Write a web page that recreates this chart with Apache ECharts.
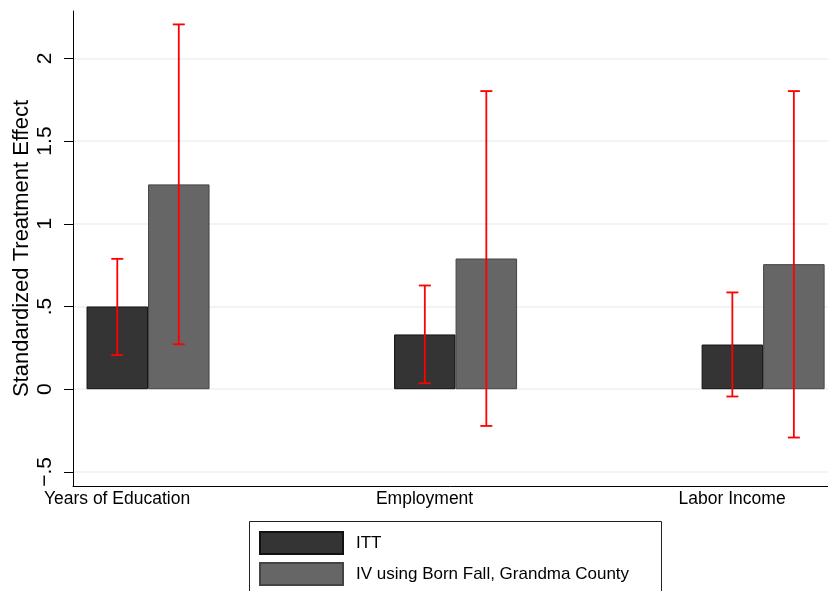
<!DOCTYPE html>
<html>
<head>
<meta charset="utf-8">
<script src="https://cdn.jsdelivr.net/npm/echarts@6/dist/echarts.min.js"></script>
<style>
  html, body { margin: 0; padding: 0; background: #fff; }
  #chart { width: 828px; height: 591px; }
</style>
</head>
<body>
<div id="chart"></div>
<script>
// Outcome categories, placed at positions 1, 2, 3 on the x axis
const categories = ['Years of Education', 'Employment', 'Labor Income'];
const positions = [1, 2, 3];

// Intent-to-treat estimates with 95% confidence bounds
const ittValues = [0.500, 0.331, 0.270];
const ittLow    = [0.206, 0.036, -0.044];
const ittHigh   = [0.788, 0.627, 0.585];

// IV estimates with 95% confidence bounds
const ivValues = [1.238, 0.790, 0.756];
const ivLow    = [0.272, -0.222, -0.292];
const ivHigh   = [2.205, 1.802, 1.802];

// Y axis ticks and their labels
const yTicks = [-0.5, 0, 0.5, 1, 1.5, 2];
const yTickLabels = ['\u2212.5', '0', '.5', '1', '1.5', '2'];

const seriesNames = ['ITT', 'IV using Born Fall, Grandma County'];
const FONT = '"Liberation Sans", Arial, Helvetica, sans-serif';

// Each bar takes 20% of the unit spacing between outcomes; error bars sit on bar centres
const BAR_SHARE = 0.2;

function errorBarRenderer(offset) {
  return function (params, api) {
    const x = api.value(0) + offset;
    const lo = api.coord([x, api.value(1)]);
    const hi = api.coord([x, api.value(2)]);
    const cap = 6;
    const style = { stroke: '#ff0000', lineWidth: 1.8 };
    return {
      type: 'group',
      children: [
        { type: 'line', shape: { x1: lo[0], y1: lo[1], x2: hi[0], y2: hi[1] }, style },
        { type: 'line', shape: { x1: hi[0] - cap, y1: hi[1], x2: hi[0] + cap, y2: hi[1] }, style },
        { type: 'line', shape: { x1: lo[0] - cap, y1: lo[1], x2: lo[0] + cap, y2: lo[1] }, style }
      ]
    };
  };
}

function legendFor(name, top) {
  return {
    data: [name],
    orient: 'vertical',
    left: 254,
    top: top,
    padding: 5,
    itemWidth: 83,
    itemHeight: 22,
    icon: 'rect',
    selectedMode: false,
    textStyle: { fontFamily: FONT, fontSize: 17, color: '#000', padding: [0, 0, 0, 8] }
  };
}

const chart = echarts.init(document.getElementById('chart'), null, { renderer: 'canvas' });

chart.setOption({
  backgroundColor: '#ffffff',
  animation: false,
  textStyle: { fontFamily: FONT },
  grid: { left: 73, right: 0, top: 11, bottom: 105, outerBoundsMode: 'none', containLabel: false },
  xAxis: {
    type: 'value',
    min: 0.756,
    max: 3.211,
    axisLine: { show: true, onZero: false, lineStyle: { color: '#000', width: 1 } },
    axisTick: { show: false },
    splitLine: { show: false },
    axisLabel: {
      customValues: positions,
      formatter: v => categories[Math.round(v) - 1],
      fontFamily: FONT,
      fontSize: 17.5,
      color: '#000',
      margin: 4,
      padding: [0, 62, 0, 0]
    }
  },
  yAxis: {
    type: 'value',
    min: -0.585,
    max: 2.286,
    name: 'Standardized Treatment Effect',
    nameLocation: 'middle',
    nameGap: 40,
    nameMoveOverlap: false,
    nameTextStyle: { fontFamily: FONT, fontSize: 22, color: '#000' },
    axisLine: { show: true, onZero: false, lineStyle: { color: '#000', width: 1 } },
    axisTick: { show: true, customValues: yTicks, length: 9, lineStyle: { color: '#000', width: 1 } },
    axisLabel: {
      customValues: yTicks,
      formatter: v => yTickLabels[yTicks.indexOf(v)],
      rotate: 90,
      fontFamily: FONT,
      fontSize: 21,
      color: '#000',
      margin: 17
    },
    splitLine: { show: true, lineStyle: { color: '#eaf1f4', width: 1.5 } }
  },
  legend: [legendFor(seriesNames[0], 526), legendFor(seriesNames[1], 557)],
  graphic: [{
    type: 'rect',
    shape: { x: 249.5, y: 521.5, width: 412, height: 100 },
    style: { fill: 'none', stroke: '#222', lineWidth: 1 },
    silent: true
  }],
  series: [
    {
      name: seriesNames[0],
      type: 'bar',
      barWidth: (BAR_SHARE * 100) + '%',
      barGap: '0%',
      itemStyle: { color: '#343434', borderColor: '#111', borderWidth: 1 },
      data: positions.map((p, i) => [p, ittValues[i]]),
      z: 2
    },
    {
      name: seriesNames[1],
      type: 'bar',
      barWidth: (BAR_SHARE * 100) + '%',
      barGap: '0%',
      itemStyle: { color: '#666666', borderColor: '#444', borderWidth: 1 },
      data: positions.map((p, i) => [p, ivValues[i]]),
      z: 2
    },
    {
      name: 'ITT CI',
      type: 'custom',
      renderItem: errorBarRenderer(-BAR_SHARE / 2),
      data: positions.map((p, i) => [p, ittLow[i], ittHigh[i]]),
      encode: { x: 0, y: [1, 2] },
      clip: false,
      z: 5
    },
    {
      name: 'IV CI',
      type: 'custom',
      renderItem: errorBarRenderer(BAR_SHARE / 2),
      data: positions.map((p, i) => [p, ivLow[i], ivHigh[i]]),
      encode: { x: 0, y: [1, 2] },
      clip: false,
      z: 5
    }
  ]
});
</script>
</body>
</html>
